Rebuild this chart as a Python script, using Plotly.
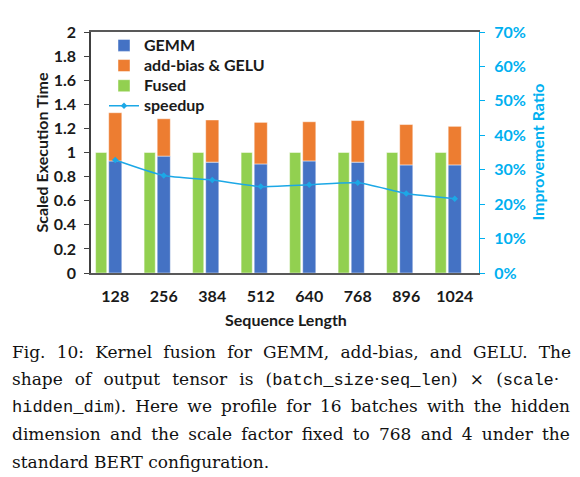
import plotly.graph_objects as go

# ---------------- data ----------------
seq_len = ["128", "256", "384", "512", "640", "768", "896", "1024"]
gemm = [0.93, 0.97, 0.92, 0.905, 0.93, 0.92, 0.897, 0.897]
addbias_gelu = [0.40, 0.31, 0.35, 0.345, 0.325, 0.345, 0.335, 0.32]
fused = [1, 1, 1, 1, 1, 1, 1, 1]
speedup = [0.328, 0.283, 0.270, 0.251, 0.256, 0.262, 0.231, 0.216]

left_ticks = [0, 0.2, 0.4, 0.6, 0.8, 1, 1.2, 1.4, 1.6, 1.8, 2]
right_ticks = [0, 0.1, 0.2, 0.3, 0.4, 0.5, 0.6, 0.7]

# ---------------- layout constants ----------------
W, H = 580, 477
L, R, T, B = 91, 479, 31.7, 273.3
PW, PH = R - L, B - T

def px_x(px):
    return (px - L) / PW

def px_y(py):
    return (B - py) / PH

FONT = "Lato"
DARK = "#1a1a1a"
CYAN = "#00B0F0"

def big(s):
    return '<span style="font-size:16px">' + s + '</span>'

fig = go.Figure()

fig.add_trace(go.Bar(
    x=seq_len, y=gemm, name=big("GEMM"),
    marker=dict(color="#4472C4", line=dict(color="rgba(255,255,255,0.45)", width=1)),
    width=0.27, offset=-0.135,
))
fig.add_trace(go.Bar(
    x=seq_len, y=addbias_gelu, base=gemm, name=big("add-bias &amp; GELU"),
    marker=dict(color="#ED7D31", line=dict(color="rgba(255,255,255,0.45)", width=1)),
    width=0.27, offset=-0.135,
))
fig.add_trace(go.Bar(
    x=seq_len, y=fused, name=big("Fused"),
    marker=dict(color="#92D050", line=dict(color="rgba(255,255,255,0.45)", width=1)),
    width=0.23, offset=-0.405,
))
fig.add_trace(go.Scatter(
    x=seq_len, y=speedup, name=big("speedup"), yaxis="y2",
    mode="lines+markers",
    line=dict(color="#1CA8E6", width=1.5, shape="spline", smoothing=0.6),
    marker=dict(symbol="diamond", size=5, color="#1CA8E6"),
))

tickfont = dict(family=FONT, size=16, color=DARK, weight="bold")

fig.update_layout(
    width=W, height=H,
    margin=dict(l=L, r=W - R, t=T, b=H - B, pad=0),
    paper_bgcolor="white", plot_bgcolor="white",
    barmode="overlay",
    showlegend=True,
    legend=dict(
        x=px_x(104), y=px_y(30), xanchor="left", yanchor="top",
        bgcolor="rgba(0,0,0,0)", font=dict(family=FONT, size=13.2, color=DARK, weight="bold"),
        tracegroupgap=0, itemwidth=30, traceorder="normal",
    ),
    xaxis=dict(
        type="category", range=[-0.5, 7.5],
        showline=True, linecolor="#595959", linewidth=1.5, mirror=True,
        ticks="", tickfont=tickfont, ticklabelstandoff=8,
        showgrid=False, zeroline=False,
    ),
    yaxis=dict(
        range=[0, 2], tickvals=left_ticks,
        showline=True, linecolor="#404040", linewidth=1.5,
        ticks="outside", ticklen=5, tickcolor="#404040",
        tickfont=tickfont, ticklabelstandoff=5,
        showgrid=False, zeroline=False,
    ),
    yaxis2=dict(
        overlaying="y", side="right", range=[0, 0.7], tickvals=right_ticks,
        tickformat=".0%",
        showline=True, linecolor=CYAN, linewidth=1,
        ticks="outside", ticklen=5, tickcolor=CYAN,
        tickfont=dict(family=FONT, size=16, color=CYAN, weight="bold"),
        ticklabelstandoff=6,
        showgrid=False, zeroline=False,
    ),
)

annotations = []
# axis titles
annotations.append(dict(text="Scaled Execution Time", x=px_x(41), y=px_y(152.5), xref="paper", yref="paper",
                        textangle=-90, showarrow=False, xanchor="center", yanchor="middle",
                        font=dict(family=FONT, size=16, color=DARK, weight="bold")))
annotations.append(dict(text="Improvement Ratio", x=px_x(537), y=px_y(152.5), xref="paper", yref="paper",
                        textangle=-90, showarrow=False, xanchor="center", yanchor="middle",
                        font=dict(family=FONT, size=16, color=CYAN, weight="bold")))
annotations.append(dict(text="Sequence Length", x=px_x(286), y=px_y(320), xref="paper", yref="paper",
                        showarrow=False, xanchor="center", yanchor="middle",
                        font=dict(family=FONT, size=16, color=DARK, weight="bold")))

# caption
def mono(s):
    return '<span style="font-family:Liberation Mono">' + s + '</span>'

caption_lines = [
    ("Fig. 10: Kernel fusion for GEMM, add-bias, and GELU. The", 5.8),
    ("shape of output tensor is (" + mono("batch_size") + "·" + mono("seq_len") + ") × (" + mono("scale") + "·", 6.7),
    (mono("hidden_dim") + "). Here we profile for 16 batches with the hidden", 3.7),
    ("dimension and the scale factor fixed to 768 and 4 under the", 3.8),
    ("standard BERT configuration.", 0),
]
for i, (txt, ws) in enumerate(caption_lines):
    base = 357.5 + 27.6 * i
    annotations.append(dict(
        text='<span style="word-spacing:%.1fpx">%s</span>' % (ws, txt),
        x=px_x(10), y=px_y(base - 5.5), xref="paper", yref="paper",
        showarrow=False, xanchor="left", yanchor="middle",
        font=dict(family="DejaVu Serif", size=17, color="#111111"),
    ))

fig.update_layout(annotations=annotations)

fig.write_html("out.html")
